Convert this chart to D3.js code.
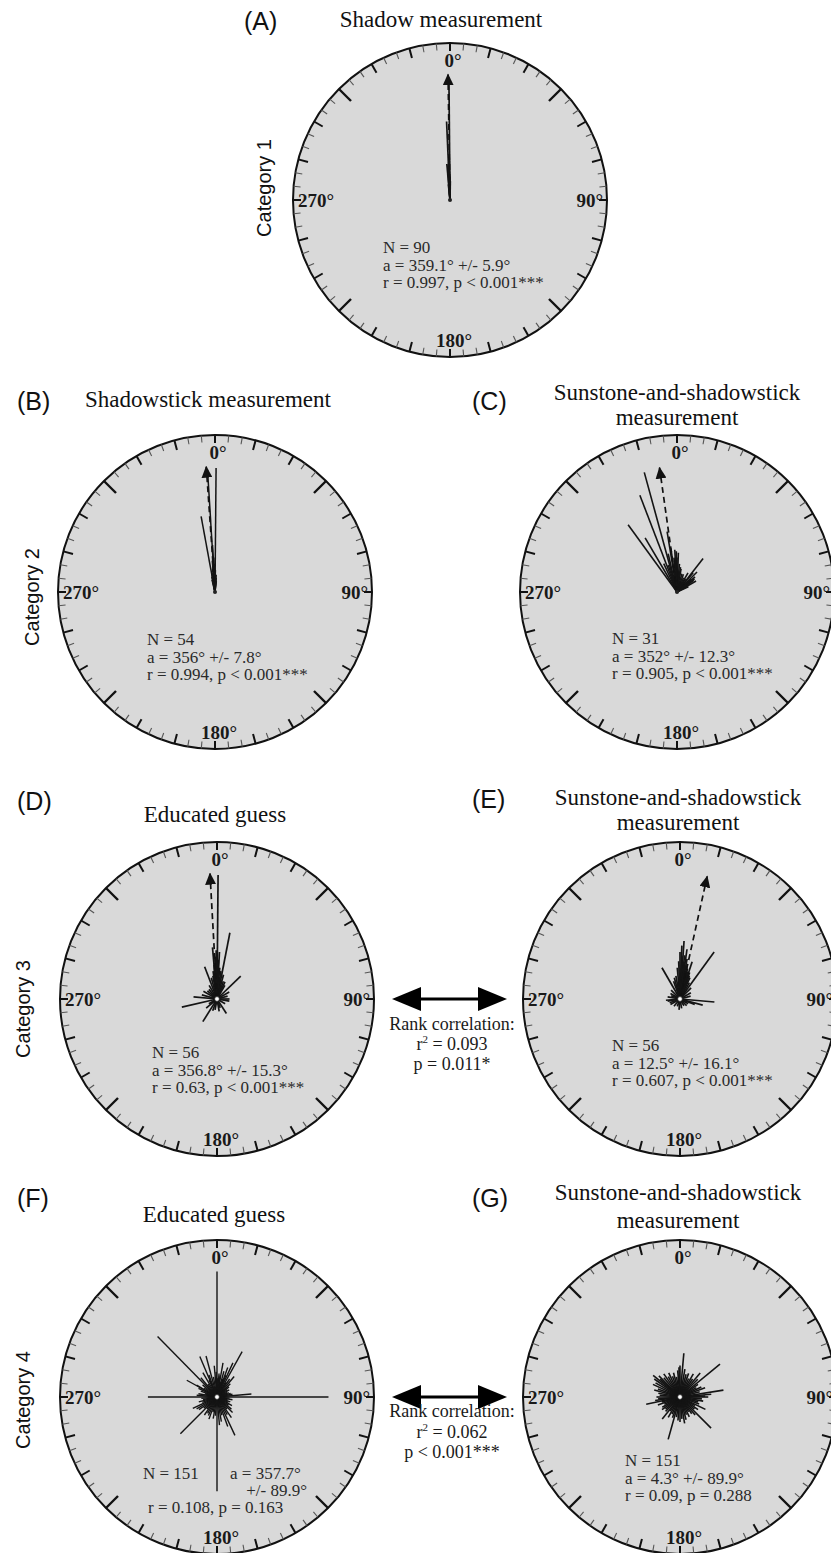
<!DOCTYPE html>
<html><head><meta charset="utf-8">
<script src="https://cdn.jsdelivr.net/npm/d3@7"></script>
<style>body{margin:0;background:#fff}svg{display:block}</style>
</head><body>
<svg id="chart" width="831" height="1553"></svg>
<script>
// ---------------- DATA ----------------
const panelIds = ["A","B","C","D","E","F","G"];
const panelTitles = [["Shadow measurement"],["Shadowstick measurement"],["Sunstone-and-shadowstick","measurement"],["Educated guess"],["Sunstone-and-shadowstick","measurement"],["Educated guess"],["Sunstone-and-shadowstick","measurement"]];
const categoryLabels = ["Category 1","Category 2","Category 3","Category 4"];
const sampleN = [90,54,31,56,56,151,151];
const meanAngleText = ["359.1","356","352","356.8","12.5","357.7","4.3"];
const meanAngle = [359.1,356,352,356.8,12.5,357.7,4.3];
const meanCI = ["5.9","7.8","12.3","15.3","16.1","89.9","89.9"];
const rValue = ["0.997","0.994","0.905","0.63","0.607","0.108","0.09"];
const pValue = ["p < 0.001***","p < 0.001***","p < 0.001***","p < 0.001***","p < 0.001***","p = 0.163","p = 0.288"];
const showMeanArrow = [true,true,true,true,true,false,false];
const meanArrowLength = [0.8,0.8,0.8,0.8,0.8,0,0];
const cardinalLabels = ["0°","90°","180°","270°"];
const rankR2 = ["0.093","0.062"];
const rankP = ["p = 0.011*","p < 0.001***"];

// individual vectors: direction (deg) and length (fraction of radius)
const dirA = [359.5,358,357,355,356,358.5,359,0,1,357.5,354];
const lenA = [0.78,0.24,0.22,0.23,0.20,0.18,0.25,0.15,0.12,0.50,0.10];

const dirB = [356.5,0.5,349.6,357,355,358,352,354,359,1,353,2,350,3,348,5,346,7,351,4];
const lenB = [0.78,0.79,0.49,0.30,0.20,0.22,0.12,0.15,0.18,0.14,0.10,0.10,0.09,0.08,0.10,0.09,0.08,0.07,0.12,0.11];

const dirC = [344.7,339,324,329.5,350.7,359,2,38,45,50,55,60,355,5,10,20,30,335,347,352,357,0,40,48,65,25,15,342,8,33,53];
const lenC = [0.79,0.66,0.53,0.40,0.39,0.26,0.25,0.27,0.18,0.15,0.13,0.14,0.22,0.18,0.15,0.12,0.14,0.20,0.25,0.28,0.27,0.22,0.16,0.12,0.08,0.10,0.12,0.18,0.16,0.10,0.14];

const dirD = [0.5,11,46,339,257,275,212,147,170,90,0,358,2,355,5,352,8,350,3,357,1,354,6,15,20,30,345,330,320,60,75,120,190,200,240,300,100,160,230,285,310,25,355,359];
const lenD = [0.79,0.43,0.21,0.22,0.23,0.15,0.17,0.11,0.08,0.08,0.29,0.27,0.25,0.22,0.20,0.18,0.18,0.15,0.30,0.26,0.24,0.12,0.14,0.16,0.12,0.10,0.14,0.10,0.08,0.09,0.07,0.06,0.07,0.08,0.06,0.10,0.08,0.06,0.09,0.10,0.08,0.12,0.33,0.31];

const dirE = [36,330,4,95,105,280,200,0,2,6,8,10,12,14,18,20,355,358,350,345,25,30,45,60,75,120,150,170,185,220,240,260,300,315,340,3,7,16,22,265,250,290,110,135];
const lenE = [0.37,0.23,0.37,0.22,0.15,0.08,0.05,0.30,0.34,0.28,0.32,0.26,0.22,0.20,0.25,0.18,0.20,0.24,0.15,0.14,0.15,0.12,0.10,0.08,0.07,0.06,0.05,0.06,0.07,0.06,0.07,0.08,0.07,0.08,0.12,0.27,0.24,0.18,0.16,0.09,0.07,0.06,0.10,0.06];

const dirF = [0,90,270,180,315.5,29,225,155,85,337,345,299,245,355,10,20,25,40,35,300,280,275,170,200,160,190,210,235,320,330,5,15,45,50,60,70,100,110,120,130,135,140,145,150,165,175,185,195,205,215,220,230,240,250,255,260,265,285,290,295,305,310,325,335,340,350,358,2,8,12,18,22,32,55,65,75,80,95,105,115,125];
const lenF = [0.80,0.71,0.44,0.60,0.54,0.33,0.33,0.27,0.22,0.28,0.27,0.22,0.17,0.20,0.22,0.20,0.24,0.17,0.14,0.15,0.12,0.13,0.16,0.15,0.20,0.14,0.12,0.14,0.16,0.18,0.15,0.17,0.12,0.10,0.09,0.08,0.10,0.09,0.11,0.12,0.14,0.10,0.16,0.13,0.12,0.18,0.12,0.10,0.13,0.14,0.10,0.11,0.15,0.10,0.12,0.09,0.10,0.08,0.11,0.13,0.10,0.12,0.10,0.12,0.15,0.13,0.16,0.12,0.14,0.10,0.12,0.15,0.11,0.08,0.07,0.09,0.10,0.08,0.07,0.08,0.09];

const dirG = [5,50.5,81,135,195.6,258,309,116,219,0,10,15,20,25,30,35,40,45,55,60,65,70,75,85,88,90,95,100,105,110,120,125,130,140,145,150,155,160,165,170,175,180,185,190,200,205,210,215,225,230,235,240,245,250,255,262,265,270,275,280,285,290,295,300,305,312,315,320,325,330,335,340,345,350,355,358];
const lenG = [0.28,0.33,0.28,0.28,0.28,0.22,0.22,0.18,0.18,0.20,0.18,0.15,0.16,0.13,0.17,0.14,0.20,0.16,0.14,0.12,0.15,0.17,0.13,0.20,0.16,0.18,0.14,0.15,0.12,0.13,0.11,0.14,0.12,0.15,0.13,0.11,0.14,0.12,0.15,0.17,0.14,0.16,0.15,0.13,0.14,0.12,0.15,0.11,0.13,0.12,0.14,0.13,0.11,0.15,0.12,0.16,0.14,0.15,0.13,0.14,0.17,0.15,0.19,0.18,0.20,0.17,0.19,0.16,0.18,0.15,0.17,0.14,0.16,0.13,0.17,0.19];

const vectorDirs = [dirA,dirB,dirC,dirD,dirE,dirF,dirG];
const vectorLens = [lenA,lenB,lenC,lenD,lenE,lenF,lenG];

// ---------------- LAYOUT ----------------
const R = 157;
const layout = [
  {cx:450, cy:200, lab:[244,30], title:[441,[27]], stats:[383,253], white:false, vw:1.7},
  {cx:215, cy:592, lab:[17,410], title:[208,[407]], stats:[147,645], white:false, vw:1.5},
  {cx:677, cy:592, lab:[472,410], title:[677,[400,425]], stats:[612,644], white:false, vw:1.6},
  {cx:217, cy:999, lab:[17,810], title:[215,[822]], stats:[152,1058], white:true, vw:1.7},
  {cx:680, cy:999, lab:[472,808], title:[678,[805,830]], stats:[612,1051], white:true, vw:1.7},
  {cx:217, cy:1397, lab:[17,1207], title:[214,[1222]], stats:[143,1479], white:true, vw:1.4},
  {cx:680, cy:1397, lab:[472,1207], title:[678,[1200,1228]], stats:[625,1466], white:true, vw:1.6}
];
const catPos = [[271,188],[39,597],[30,1009],[30,1400]];
const rankPos = [{y:999, x1:392, x2:507, tx:452, ty:[1030,1050,1070]},{y:1397, x1:392, x2:507, tx:452, ty:[1417,1438,1458]}];

const SERIF = "'Liberation Serif','Times New Roman',serif";
const SANS = "'Liberation Sans',Arial,sans-serif";

const svg = d3.select("#chart");
svg.append("rect").attr("width",831).attr("height",1553).attr("fill","#fff");

const rScale = d3.scaleLinear().domain([0,1]).range([0,R]);
const aScale = d3.scaleLinear().domain([0,360]).range([0,2*Math.PI]);

const defs = svg.append("defs");
defs.append("marker").attr("id","ah").attr("viewBox","0 0 12 11").attr("refX",11).attr("refY",5.5)
  .attr("markerWidth",12).attr("markerHeight",11).attr("markerUnits","userSpaceOnUse").attr("orient","auto")
  .append("path").attr("d","M0,0 L12,5.5 L0,11 Z").attr("fill","#111");

panelIds.forEach((id,i)=>{
  const L = layout[i];
  const g = svg.append("g").attr("transform",`translate(${L.cx},${L.cy})`);
  g.append("circle").attr("r",R).attr("fill","#d9d9d9").attr("stroke","#111").attr("stroke-width",2);

  // ticks every 5 degrees
  const ticks = d3.range(0,360,5);
  g.selectAll("line.tick").data(ticks).join("line").attr("class","tick")
    .each(function(d){
      let len, w, col;
      if (d%90===0){len=8;w=2;col="#111";}
      else if (d%45===0){len=17;w=2.4;col="#111";}
      else if (d%15===0){len=10;w=2;col="#111";}
      else {len=7;w=1.1;col="#555";}
      const p1 = d3.pointRadial(aScale(d), R);
      const p2 = d3.pointRadial(aScale(d), R-len);
      d3.select(this).attr("x1",p1[0]).attr("y1",p1[1]).attr("x2",p2[0]).attr("y2",p2[1])
        .attr("stroke",col).attr("stroke-width",w);
    });

  // cardinal labels
  const lab = g.append("g").attr("font-family",SERIF).attr("font-weight","bold").attr("font-size",19).attr("fill","#1a1a1a");
  lab.append("text").attr("x",3).attr("y",-R+24).attr("text-anchor","middle").text(cardinalLabels[0]);
  lab.append("text").attr("x",R-4).attr("y",7).attr("text-anchor","end").text(cardinalLabels[1]);
  lab.append("text").attr("x",4).attr("y",R-10).attr("text-anchor","middle").text(cardinalLabels[2]);
  lab.append("text").attr("x",-R+5).attr("y",7).attr("text-anchor","start").text(cardinalLabels[3]);

  // vectors
  const lineR = d3.lineRadial().angle(d=>aScale(d[0])).radius(d=>rScale(d[1]));
  const vec = vectorDirs[i].map((d,k)=>[d, vectorLens[i][k]]);
  g.selectAll("path.vec").data(vec).join("path").attr("class","vec")
    .attr("d",d=>lineR([[d[0],0],[d[0],d[1]]]))
    .attr("stroke","#141414").attr("stroke-width",L.vw).attr("fill","none");

  // mean arrow
  if (showMeanArrow[i]){
    const tip = d3.pointRadial(aScale(meanAngle[i]), rScale(meanArrowLength[i]));
    g.append("line").attr("x1",0).attr("y1",0).attr("x2",tip[0]).attr("y2",tip[1])
      .attr("stroke","#111").attr("stroke-width",1.7).attr("stroke-dasharray","6,4")
      .attr("marker-end","url(#ah)");
  }
  if (L.white){
    g.append("circle").attr("r",2.4).attr("fill","#fff").attr("stroke","#222").attr("stroke-width",0.8);
  } else {
    g.append("circle").attr("r",2).attr("fill","#222");
  }

  // panel letter
  svg.append("text").attr("x",L.lab[0]).attr("y",L.lab[1]).attr("font-family",SANS).attr("font-size",25)
    .attr("fill","#111").text(`(${id})`);
  // title
  panelTitles[i].forEach((t,k)=>{
    svg.append("text").attr("x",L.title[0]).attr("y",L.title[1][k]).attr("text-anchor","middle")
      .attr("font-family",SERIF).attr("font-size",23).attr("fill","#111").text(t);
  });

  // stats
  const st = svg.append("g").attr("font-family",SERIF).attr("font-size",17).attr("fill","#2a2a2a");
  const sx = L.stats[0], sy = L.stats[1];
  if (id==="F"){
    st.append("text").attr("x",sx).attr("y",sy).text(`N = ${sampleN[i]}`);
    st.append("text").attr("x",230).attr("y",sy).text(`a = ${meanAngleText[i]}°`);
    st.append("text").attr("x",307).attr("y",sy+17).attr("text-anchor","end").text(`+/- ${meanCI[i]}°`);
    st.append("text").attr("x",148).attr("y",sy+34).text(`r = ${rValue[i]}, ${pValue[i]}`);
  } else {
    st.append("text").attr("x",sx).attr("y",sy).text(`N = ${sampleN[i]}`);
    st.append("text").attr("x",sx).attr("y",sy+17.5).text(`a = ${meanAngleText[i]}° +/- ${meanCI[i]}°`);
    st.append("text").attr("x",sx).attr("y",sy+35).text(`r = ${rValue[i]}, ${pValue[i]}`);
  }
});

// category labels
categoryLabels.forEach((c,i)=>{
  svg.append("text").attr("transform",`translate(${catPos[i][0]},${catPos[i][1]}) rotate(-90)`)
    .attr("text-anchor","middle").attr("font-family",SANS).attr("font-size",20).attr("fill","#111").text(c);
});

// rank correlation arrows
rankPos.forEach((P,i)=>{
  const g = svg.append("g");
  const hl = 29, hw = 12;
  g.append("line").attr("x1",P.x1+hl-2).attr("x2",P.x2-hl+2).attr("y1",P.y).attr("y2",P.y)
    .attr("stroke","#000").attr("stroke-width",3.2);
  g.append("path").attr("d",`M${P.x1},${P.y} L${P.x1+hl},${P.y-hw} L${P.x1+hl},${P.y+hw} Z`).attr("fill","#000");
  g.append("path").attr("d",`M${P.x2},${P.y} L${P.x2-hl},${P.y-hw} L${P.x2-hl},${P.y+hw} Z`).attr("fill","#000");
  const t = g.append("g").attr("font-family",SERIF).attr("font-size",18).attr("fill","#1a1a1a").attr("text-anchor","middle");
  t.append("text").attr("x",P.tx).attr("y",P.ty[0]).text("Rank correlation:");
  const t2 = t.append("text").attr("x",P.tx).attr("y",P.ty[1]);
  t2.append("tspan").text("r");
  t2.append("tspan").attr("font-size",11).attr("dy",-7).text("2");
  t2.append("tspan").attr("dy",7).text(` = ${rankR2[i]}`);
  t.append("text").attr("x",P.tx).attr("y",P.ty[2]).text(rankP[i]);
});
</script>
</body></html>
